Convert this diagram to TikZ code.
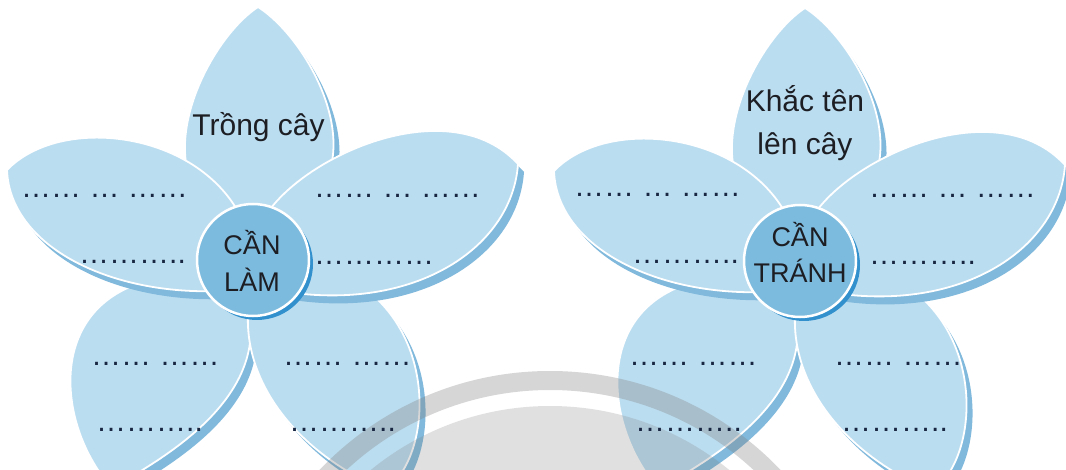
\documentclass[tikz,border=0pt]{standalone}
\usepackage{fontspec}
\setmainfont{Liberation Sans}
\definecolor{petalfill}{RGB}{187,221,240}
\definecolor{petalshadowc}{RGB}{128,185,220}
\definecolor{hubfill}{RGB}{125,187,222}
\definecolor{hubshadowc}{RGB}{50,145,205}
\definecolor{txt}{RGB}{28,30,36}
\definecolor{dotc}{RGB}{25,38,66}
\tikzset{
 petal/.style={fill=petalfill, draw=white, line width=1.8pt, line join=round},
 petalshadow/.style={fill=petalshadowc, shift={(6,8)}},
 hub/.style={fill=hubfill, draw=white, line width=2.5pt},
 hubshadow/.style={fill=hubshadowc},
 lbl/.style={text=txt, font=\fontsize{30}{36}\selectfont, inner sep=0pt, anchor=base},
 hubtxt/.style={text=txt, font=\fontsize{27}{32}\selectfont, inner sep=0pt, anchor=base},
 dotline/.style={text=dotc, font=\fontsize{30}{36}\selectfont, inner sep=0pt, anchor=base west},
 wmark/.style={fill=black!50, opacity=0.32},
 wmarkin/.style={fill=black!50, opacity=0.24},
}
\newcommand\PetalTop[1]{\path[#1] (253,230) .. controls (130,200) and (200,45) .. (258,7) .. controls (318,45) and (395,200) .. (253,230) -- cycle;}
\newcommand\PetalBL[1]{\path[#1] (205,275) .. controls (40,270) and (50,420) .. (112,488) .. controls (160,460) and (270,400) .. (248,305) -- cycle;}
\newcommand\PetalBR[1]{\path[#1] (250,295) .. controls (235,380) and (300,455) .. (385,490) .. controls (430,460) and (440,340) .. (360,285) -- cycle;}
\newcommand\PetalL[1]{\path[#1] (240,215) .. controls (195,130) and (60,115) .. (7,170) .. controls (10,250) and (120,300) .. (235,290) -- cycle;}
\newcommand\PetalR[1]{\path[#1] (266,215) .. controls (305,155) and (450,90) .. (518,164) .. controls (512,250) and (410,315) .. (275,290) -- cycle;}
\newcommand\FlowerShape{%
 \PetalTop{petalshadow}\PetalTop{petal}%
 \PetalBL{petalshadow}\PetalBL{petal}%
 \PetalBR{petalshadow}\PetalBR{petal}%
 \PetalL{petalshadow}\PetalL{petal}%
 \PetalR{petalshadow}\PetalR{petal}%
 \path[hubshadow] (257,264) circle[radius=56];%
 \path[hub] (253,260) circle[radius=56];%
}
\begin{document}
\begin{tikzpicture}[x=1pt,y=-1pt]
\useasboundingbox (0,0) rectangle (1066,470);
\fill[white] (0,0) rectangle (1066,470);
% flower 1
\begin{scope}
\FlowerShape
\end{scope}
% flower 2
\begin{scope}[shift={(547,1)}]
\FlowerShape
\end{scope}
% watermark
\path[wmark, even odd rule] (550,689) circle[radius=318] (550,689) circle[radius=299];
\path[wmarkin] (550,689) circle[radius=283];
% texts flower 1
\node[lbl] (t1) at (258.5,136) {Trồng cây};
\node[hubtxt] (c1a) at (252,255) {CẦN};
\node[hubtxt] (c1b) at (252,292) {LÀM};
\node[dotline] (d1a) at (21,197.5) {…… … ……};
\node[dotline] (d1b) at (79,263.5) {………..};
\node[dotline] (d1c) at (314,197.5) {…… … ……};
\node[dotline] (d1d) at (314,264.5) {…………};
\node[dotline] (d1e) at (91,365.5) {…… ……};
\node[dotline] (d1f) at (96,431.5) {………..};
\node[dotline] (d1g) at (283,365.5) {…… ……};
\node[dotline] (d1h) at (289,431.5) {………..};
% texts flower 2
\node[lbl] (t2a) at (805,111.5) {Khắc tên};
\node[lbl] (t2b) at (805,154.5) {lên cây};
\node[hubtxt] (c2a) at (800,247) {CẦN};
\node[hubtxt] (c2b) at (800,283) {TRÁNH};
\node[dotline] (d2a) at (574,196.5) {…… … ……};
\node[dotline] (d2b) at (632,263.5) {………..};
\node[dotline] (d2c) at (869,198) {…… … ……};
\node[dotline] (d2d) at (869,264.5) {………..};
\node[dotline] (d2e) at (629,366) {…… ……};
\node[dotline] (d2f) at (635,431.5) {………..};
\node[dotline] (d2g) at (834,365.5) {…… ……};
\node[dotline] (d2h) at (841,431.5) {………..};
\end{tikzpicture}
\end{document}
